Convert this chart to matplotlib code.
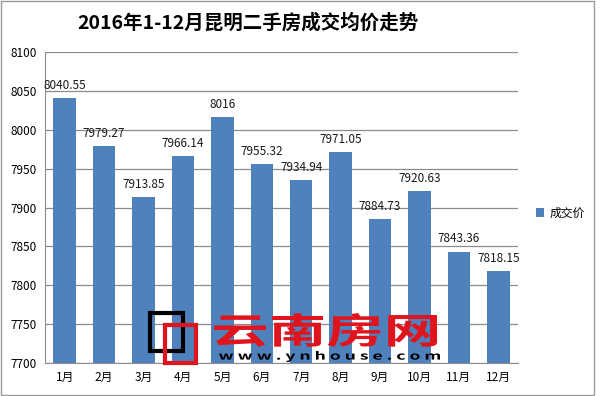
import matplotlib
matplotlib.use("Agg")
import matplotlib.pyplot as plt
from matplotlib.patches import Rectangle, PathPatch
from matplotlib.textpath import TextPath
from matplotlib.font_manager import FontProperties
from matplotlib.transforms import Affine2D, IdentityTransform

plt.rcParams['font.family'] = ['Noto Sans CJK SC', 'DejaVu Sans']

title = "2016年1-12月昆明二手房成交均价走势"
months = ["1月", "2月", "3月", "4月", "5月", "6月", "7月", "8月", "9月", "10月", "11月", "12月"]
prices = [8040.55, 7979.27, 7913.85, 7966.14, 8016, 7955.32, 7934.94, 7971.05,
          7884.73, 7920.63, 7843.36, 7818.15]
price_labels = ["8040.55", "7979.27", "7913.85", "7966.14", "8016", "7955.32", "7934.94",
                "7971.05", "7884.73", "7920.63", "7843.36", "7818.15"]
series_name = "成交价"
yticks = [7700, 7750, 7800, 7850, 7900, 7950, 8000, 8050, 8100]
wm_name = "云南房网"
wm_url = "www.ynhouse.com"

bar_color = "#4F81BD"
W, H = 600, 396

fig = plt.figure(figsize=(6, 3.96), dpi=100)
fig.patch.set_facecolor("white")
ax = fig.add_axes([0.075, 0.0833, 0.7883, 0.7854])

x = list(range(len(months)))
ax.bar(x, prices, width=0.57, color=bar_color, label=series_name, zorder=3)
ax.set_xlim(-0.5, len(months) - 0.5)
ax.set_ylim(7700, 8100)
ax.set_yticks(yticks)
ax.set_yticklabels([str(v) for v in yticks], fontsize=8.5)
ax.set_xticks(x)
ax.set_xticklabels(months, fontsize=8.5)
ax.tick_params(axis='both', length=0, pad=6)
ax.yaxis.grid(True, color="#8c8c8c", linewidth=0.9, zorder=0)
for s in ["top", "right"]:
    ax.spines[s].set_visible(False)
ax.spines["left"].set_color("#8c8c8c")
ax.spines["bottom"].set_color("#8c8c8c")

for xi, p, lab in zip(x, prices, price_labels):
    ax.text(xi, p + 8, lab, ha="center", va="bottom", fontsize=8.5, color="#1a1a1a", zorder=4)

fig.text(0.413, 0.943, title, ha="center", va="center", fontsize=14, fontweight="bold")

fig.legend(loc="center left", bbox_to_anchor=(0.876, 0.462), frameon=False,
           fontsize=8.5, handlelength=0.7, handleheight=0.7, handletextpad=0.4)


# watermark (drawn in pixel coordinates, y from top)
def fit_text(s, x0, x1, ytop, ybot, color, weight="bold", zorder=12):
    tp = TextPath((0, 0), s, size=50, prop=FontProperties(family="Noto Sans CJK SC", weight=weight))
    ext = tp.get_extents()
    sx = (x1 - x0) / ext.width
    sy = (ybot - ytop) / ext.height
    tr = (Affine2D().translate(-ext.x0, -ext.y0).scale(sx, sy)
          .translate(x0, H - ybot))
    patch = PathPatch(tr.transform_path(tp), facecolor=color, edgecolor="none",
                      transform=IdentityTransform(), zorder=zorder)
    fig.patches.append(patch)


fig.patches.append(Rectangle((150 / W, 1 - 351 / H), 33 / W, 38 / H, transform=fig.transFigure,
                             fill=False, edgecolor="black", linewidth=3, zorder=10))
fig.patches.append(Rectangle((165 / W, 1 - 363 / H), 31 / W, 38 / H, transform=fig.transFigure,
                             fill=False, edgecolor="#e0141c", linewidth=3, zorder=11))
fit_text(wm_name, 214, 437, 313, 347, "#e0141c")
fit_text(" ".join(wm_url), 219, 440, 351, 362, "black")

# outer border
fig.patches.append(Rectangle((0.002, 0.002), 0.988, 0.996, transform=fig.transFigure,
                             fill=False, edgecolor="#9a9a9a", linewidth=1))

fig.savefig("out.png", dpi=100)
